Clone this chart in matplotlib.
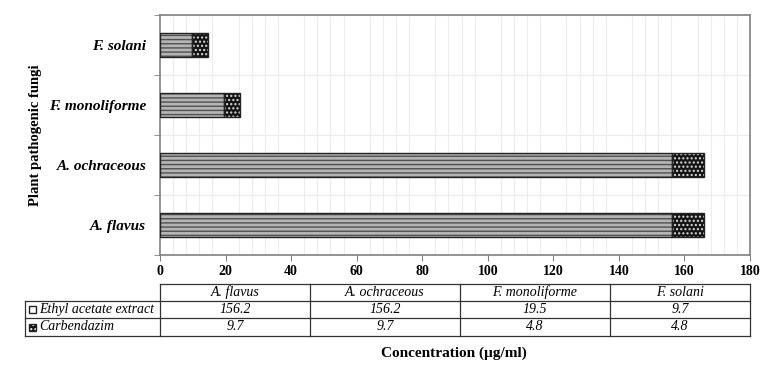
import matplotlib
matplotlib.use("Agg")
import matplotlib.pyplot as plt
from matplotlib.patches import Rectangle
import numpy as np

categories = ["A. flavus", "A. ochraceous", "F. monoliforme", "F. solani"]
ethyl = [156.2, 156.2, 19.5, 9.7]
carb = [9.7, 9.7, 4.8, 4.8]
series_names = ["Ethyl acetate extract", "Carbendazim"]
xticks = [0, 20, 40, 60, 80, 100, 120, 140, 160, 180]

plt.rcParams['font.family'] = ['Liberation Serif', 'DejaVu Serif']
plt.rcParams['hatch.linewidth'] = 1.0

W, H = 764, 367
fig = plt.figure(figsize=(W / 100, H / 100), dpi=100)

def fx(px):
    return px / W

def fy(py):
    return 1 - py / H

ax = fig.add_axes([fx(160), fy(255), fx(750) - fx(160), fy(15) - fy(255)])
y = np.arange(len(categories))
h = 0.41

# ethyl acetate bars: striped gray
ax.barh(y, ethyl, height=h, color="#b4b4b4", edgecolor="#505050", hatch="----", linewidth=0, zorder=3)
ax.barh(y, ethyl, height=h, fill=False, edgecolor="#222222", linewidth=1.0, zorder=4)
# carbendazim bars: dark with white dots
ax.barh(y, carb, left=ethyl, height=h, color="#151515", edgecolor="#dddddd", hatch="....", linewidth=0, zorder=3)
ax.barh(y, carb, left=ethyl, height=h, fill=False, edgecolor="#222222", linewidth=1.0, zorder=4)

ax.set_xlim(0, 180)
ax.set_ylim(-0.5, len(categories) - 0.5)
ax.set_xticks(xticks)
ax.set_xticklabels([str(t) for t in xticks], fontsize=10, fontweight="bold")
ax.set_xticks(np.arange(0, 181, 4), minor=True)
ax.set_yticks(y)
ax.set_yticklabels(categories, fontsize=11, fontweight="bold", fontstyle="italic")
ax.set_yticks(np.arange(-0.5, len(categories), 0.5), minor=True)
ax.tick_params(axis="y", which="major", length=0, pad=10)
ax.tick_params(axis="y", which="minor", length=4, color="#808080")
ax.tick_params(axis="x", which="major", length=4, color="#808080", pad=3)
ax.tick_params(axis="x", which="minor", length=0)
ax.grid(True, which="minor", color="#ececec", linewidth=0.8, zorder=0)
ax.set_axisbelow(True)
for s in ax.spines.values():
    s.set_color("#808080")
    s.set_linewidth(1.2)

fig.text(fx(36), fy(135), "Plant pathogenic fungi", rotation=90, ha="center", va="center",
         fontsize=10.5, fontweight="bold")
fig.text(fx(454), fy(353), "Concentration (\u00b5g/ml)", ha="center", va="center",
         fontsize=11, fontweight="bold")

# data table
tab = fig.add_axes([0, 0, 1, 1], facecolor="none")
tab.set_xlim(0, W)
tab.set_ylim(H, 0)
tab.axis("off")
col_x = [160, 310, 460, 610, 750]
row_y = [284, 301, 318, 336]
lc = "#333333"
lw = 0.9
fs = 10
tab.plot([160, 750], [row_y[0]] * 2, color=lc, lw=lw)
for ry in row_y[1:]:
    tab.plot([25, 750], [ry] * 2, color=lc, lw=lw)
tab.plot([25, 25], [row_y[1], row_y[3]], color=lc, lw=lw)
for cx in col_x:
    tab.plot([cx, cx], [row_y[0], row_y[3]], color=lc, lw=lw)
for i, c in enumerate(categories):
    xc = (col_x[i] + col_x[i + 1]) / 2
    tab.text(xc, (row_y[0] + row_y[1]) / 2, c, ha="center", va="center", fontsize=fs, fontstyle="italic")
    tab.text(xc, (row_y[1] + row_y[2]) / 2, f"{ethyl[i]:g}", ha="center", va="center", fontsize=fs, fontstyle="italic")
    tab.text(xc, (row_y[2] + row_y[3]) / 2, f"{carb[i]:g}", ha="center", va="center", fontsize=fs, fontstyle="italic")
styles = [dict(fc="white", hatch=None), dict(fc="#151515", hatch="....")]
for r, name in enumerate(series_names):
    ym = (row_y[r + 1] + row_y[r + 2]) / 2
    st = styles[r]
    tab.add_patch(Rectangle((29, ym - 3.5), 7, 7, facecolor=st["fc"], edgecolor="white" if st["hatch"] else "#222",
                            hatch=st["hatch"], lw=0))
    tab.add_patch(Rectangle((29, ym - 3.5), 7, 7, fill=False, edgecolor="#222", lw=1.0))
    tab.text(39, ym, name, ha="left", va="center", fontsize=fs, fontstyle="italic")

fig.savefig("out.png", dpi=100)
